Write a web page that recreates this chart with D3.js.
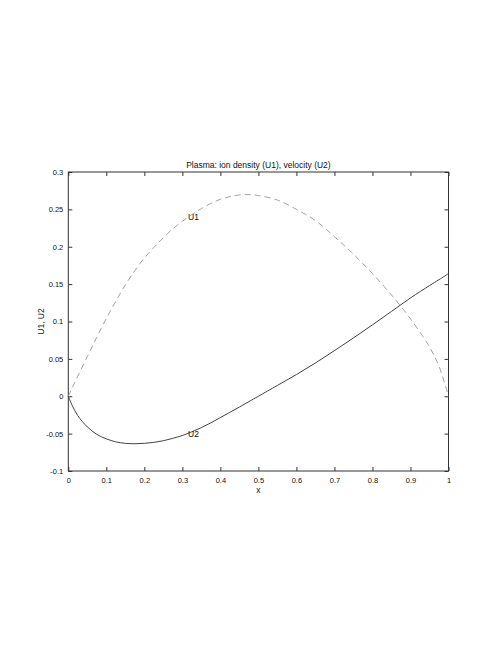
<!DOCTYPE html>
<html>
<head>
<meta charset="utf-8">
<script src="https://cdn.jsdelivr.net/npm/d3@7"></script>
<style>
  body { margin: 0; background: #fff; }
  svg { font-family: "Liberation Sans", Arial, sans-serif; }
</style>
</head>
<body>
<svg id="chart" width="500" height="654"></svg>
<script>
'use strict';

// values
var xs = [0, 0.01, 0.025, 0.05, 0.075, 0.1, 0.125, 0.15, 0.175, 0.2, 0.225, 0.25, 0.275, 0.3,
          0.325, 0.35, 0.375, 0.4, 0.425, 0.45, 0.475, 0.5, 0.55, 0.6, 0.65, 0.7, 0.75, 0.8,
          0.85, 0.9, 0.95, 0.975, 1];
var u1 = [0, 0.011, 0.027, 0.053, 0.079, 0.104, 0.127, 0.149, 0.168, 0.185, 0.199, 0.212, 0.224, 0.234,
          0.243, 0.251, 0.258, 0.2635, 0.267, 0.2693, 0.2698, 0.2685, 0.2625, 0.250, 0.235, 0.2135, 0.190, 0.164,
          0.1355, 0.1035, 0.066, 0.040, 0];
var u2 = [0, -0.012, -0.026, -0.041, -0.051, -0.057, -0.061, -0.063, -0.0635, -0.063, -0.0617, -0.0595, -0.0563, -0.0525,
          -0.0475, -0.042, -0.0355, -0.0285, -0.0215, -0.0145, -0.0072, 0.000, 0.0145, 0.029, 0.0445, 0.061, 0.078, 0.0955,
          0.1135, 0.1315, 0.148, 0.156, 0.164];
var xTicks = [0, 0.1, 0.2, 0.3, 0.4, 0.5, 0.6, 0.7, 0.8, 0.9, 1];
var yTicks = [-0.1, -0.05, 0, 0.05, 0.1, 0.15, 0.2, 0.25, 0.3];
var titleText = 'Plasma: ion density (U1), velocity (U2)';
var labels = [{ text: 'U1', x: 0.315, y: 0.24 }, { text: 'U2', x: 0.315, y: -0.05 }];

var svg = d3.select('#chart');
var plotLeft = 68.3, plotRight = 448.5, plotTop = 172, plotBottom = 471;

var x = d3.scaleLinear().domain([0, 1]).range([plotLeft, plotRight]);
var y = d3.scaleLinear().domain([-0.1, 0.3]).range([plotBottom, plotTop]);
var fmt = function(d) { return String(+d.toFixed(2)); };

function styleAxis(g) {
  g.select('.domain').remove();
  g.selectAll('line').attr('stroke', '#333');
  g.selectAll('text').attr('fill', '#111').style('font-size', '7.5px');
}

svg.append('g').attr('transform', 'translate(0,' + plotBottom + ')')
  .call(d3.axisBottom(x).tickValues(xTicks).tickFormat(fmt).tickSize(-4).tickPadding(7))
  .call(styleAxis);
svg.append('g').attr('transform', 'translate(' + plotLeft + ',0)')
  .call(d3.axisLeft(y).tickValues(yTicks).tickFormat(fmt).tickSize(-4).tickPadding(5))
  .call(styleAxis);
svg.append('g').attr('transform', 'translate(0,' + plotTop + ')')
  .call(d3.axisTop(x).tickValues(xTicks).tickFormat('').tickSize(-4))
  .call(styleAxis);
svg.append('g').attr('transform', 'translate(' + plotRight + ',0)')
  .call(d3.axisRight(y).tickValues(yTicks).tickFormat('').tickSize(-4))
  .call(styleAxis);

svg.append('rect')
  .attr('x', plotLeft).attr('y', plotTop)
  .attr('width', plotRight - plotLeft).attr('height', plotBottom - plotTop)
  .attr('fill', 'none').attr('stroke', '#333').attr('stroke-width', 1);

var line = d3.line()
  .x(function(d) { return x(d[0]); })
  .y(function(d) { return y(d[1]); })
  .curve(d3.curveCatmullRom.alpha(0.5));

svg.append('path')
  .datum(d3.zip(xs, u1))
  .attr('d', line)
  .attr('fill', 'none').attr('stroke', '#999').attr('stroke-width', 0.9)
  .attr('stroke-dasharray', '6,4');

svg.append('path')
  .datum(d3.zip(xs, u2))
  .attr('d', line)
  .attr('fill', 'none').attr('stroke', '#444').attr('stroke-width', 1);

svg.selectAll('.lbl')
  .data(labels)
  .enter().append('text')
  .attr('class', 'lbl')
  .attr('x', function(d) { return x(d.x); })
  .attr('y', function(d) { return y(d.y); })
  .attr('dy', '0.35em')
  .style('font-size', '8.5px')
  .attr('fill', '#111')
  .text(function(d) { return d.text; });

svg.append('text')
  .attr('x', (plotLeft + plotRight) / 2).attr('y', 168)
  .attr('text-anchor', 'middle')
  .style('font-size', '8.5px').attr('fill', '#111')
  .text(titleText);

svg.append('text')
  .attr('x', (plotLeft + plotRight) / 2).attr('y', 492.5)
  .attr('text-anchor', 'middle')
  .style('font-size', '8.5px').attr('fill', '#111')
  .text('x');

svg.append('text')
  .attr('transform', 'translate(43.5,' + (plotTop + plotBottom) / 2 + ') rotate(-90)')
  .attr('text-anchor', 'middle')
  .style('font-size', '8.5px').attr('fill', '#111')
  .text('U1, U2');
</script>
</body>
</html>
